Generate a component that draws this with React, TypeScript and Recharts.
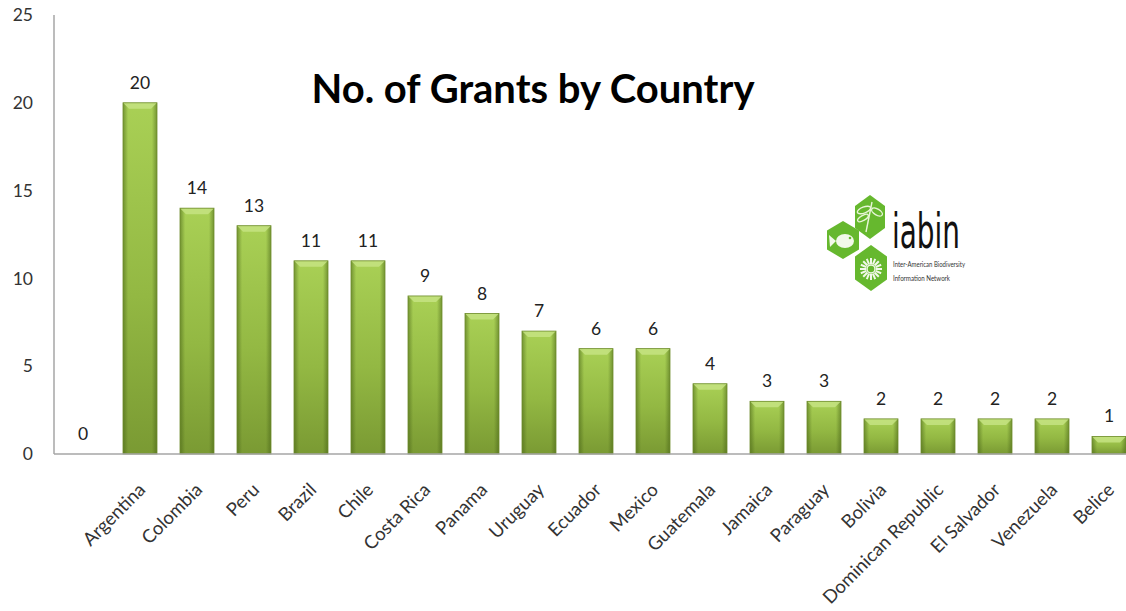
import { BarChart, Bar, XAxis, YAxis, LabelList } from 'recharts'

const countries = [
  '', 'Argentina', 'Colombia', 'Peru', 'Brazil', 'Chile', 'Costa Rica', 'Panama', 'Uruguay',
  'Ecuador', 'Mexico', 'Guatemala', 'Jamaica', 'Paraguay', 'Bolivia', 'Dominican Republic',
  'El Salvador', 'Venezuela', 'Belice',
]
const grants = [0, 20, 14, 13, 11, 11, 9, 8, 7, 6, 6, 4, 3, 3, 2, 2, 2, 2, 1]
const yTicks = [0, 5, 10, 15, 20, 25]

const data = countries.map((name, i) => ({ name, grants: grants[i] }))

const FONT = 'Lato, "Open Sans", sans-serif'

function BevelBar(props: any) {
  const { x, y, width, height } = props
  if (!height || height <= 0) return null
  const b = Math.min(6, height / 2)
  return (
    <g>
      <rect x={x} y={y} width={width} height={height} fill="url(#barFill)" />
      <rect x={x} y={y} width={width} height={height} fill="url(#barEdge)" />
      <polygon
        points={`${x},${y} ${x + width},${y} ${x + width - 6},${y + b} ${x + 6},${y + b}`}
        fill="#c6e383"
        opacity={0.85}
      />
      <rect x={x} y={y} width={width} height={height} fill="none" stroke="#6e8c2c" strokeWidth={0.8} />
    </g>
  )
}

function CountryTick(props: any) {
  const { x, y, payload } = props
  const px = x + 7
  const py = y + 29
  return (
    <text
      x={px}
      y={py}
      transform={`rotate(-45 ${px} ${py})`}
      textAnchor="end"
      fontFamily={FONT}
      fontSize={18.5}
      fill="#333"
    >
      {payload.value}
    </text>
  )
}

function Logo() {
  const hex = (cx: number, cy: number, w: number, h: number) =>
    `${cx},${cy - h} ${cx + w},${cy - h / 2} ${cx + w},${cy + h / 2} ${cx},${cy + h} ${cx - w},${cy + h / 2} ${cx - w},${cy - h / 2}`
  const petals = Array.from({ length: 16 }, (_, i) => (i * Math.PI) / 8)
  return (
    <g>
      <polygon points={hex(870, 217, 15, 22)} fill="#66b82e" />
      <polygon points={hex(843, 240, 16, 19)} fill="#66b82e" />
      <polygon points={hex(871, 268, 16, 23)} fill="#66b82e" />
      {/* dragonfly */}
      <g stroke="#e8f5d8" strokeWidth={1.4} fill="none">
        <line x1={872} y1={202} x2={866} y2={232} />
        <ellipse cx={864} cy={210} rx={7} ry={3} transform="rotate(-20 864 210)" />
        <ellipse cx={877} cy={212} rx={6} ry={3} transform="rotate(30 877 212)" />
        <ellipse cx={863} cy={218} rx={6} ry={2.5} transform="rotate(-30 863 218)" />
      </g>
      {/* fish */}
      <g fill="#f2f9ea">
        <ellipse cx={845} cy={241} rx={9} ry={7} />
        <polygon points="836,241 829,235 830,247" />
        <circle cx={850} cy={238} r={1.3} fill="#66b82e" />
      </g>
      {/* flower */}
      <g stroke="#f2f9ea" strokeWidth={2}>
        {petals.map((a, i) => (
          <line
            key={i}
            x1={871 + Math.cos(a) * 5}
            y1={269 + Math.sin(a) * 5}
            x2={871 + Math.cos(a) * 11}
            y2={269 + Math.sin(a) * 11}
          />
        ))}
      </g>
      <circle cx={871} cy={269} r={4} fill="none" stroke="#f2f9ea" strokeWidth={1.5} />
      <text
        x={892}
        y={248}
        fontFamily='"DejaVu Sans", sans-serif'
        fontSize={48}
        fill="#111"
        textLength={68}
        lengthAdjust="spacingAndGlyphs"
      >
        iabin
      </text>
      <text x={893} y={267} fontFamily={FONT} fontSize={8} fill="#333" textLength={72} lengthAdjust="spacingAndGlyphs">
        Inter-American Biodiversity
      </text>
      <text x={893} y={281} fontFamily={FONT} fontSize={8} fill="#333" textLength={57} lengthAdjust="spacingAndGlyphs">
        Information Network
      </text>
    </g>
  )
}

export default function App() {
  return (
    <div
      style={{
        position: 'fixed',
        left: 0,
        top: 0,
        width: 1126,
        height: 611,
        overflow: 'hidden',
        background: '#fff',
      }}
    >
      <BarChart width={1140} height={611} data={data} margin={{ top: 15, right: 3, left: 0, bottom: 0 }}>
        <defs>
          <linearGradient id="barFill" x1="0" y1="0" x2="0" y2="1">
            <stop offset="0%" stopColor="#a9d055" />
            <stop offset="55%" stopColor="#93b843" />
            <stop offset="100%" stopColor="#7a9a33" />
          </linearGradient>
          <linearGradient id="barEdge" x1="0" y1="0" x2="1" y2="0">
            <stop offset="0%" stopColor="#3f5a12" stopOpacity={0.5} />
            <stop offset="15%" stopColor="#3f5a12" stopOpacity={0} />
            <stop offset="85%" stopColor="#3f5a12" stopOpacity={0} />
            <stop offset="100%" stopColor="#3f5a12" stopOpacity={0.5} />
          </linearGradient>
        </defs>
        <XAxis
          dataKey="name"
          interval={0}
          height={157}
          tickLine={false}
          axisLine={{ stroke: '#a6a6a6', strokeWidth: 1.5 }}
          tick={<CountryTick />}
        />
        <YAxis
          width={54}
          domain={[0, 25]}
          ticks={yTicks}
          tickLine={false}
          tickSize={0}
          tickMargin={21}
          axisLine={{ stroke: '#a6a6a6', strokeWidth: 1.5 }}
          tick={{ fontFamily: FONT, fontSize: 17.5, fill: '#333' }}
        />
        <Bar dataKey="grants" barSize={34} shape={<BevelBar />} isAnimationActive={false}>
          <LabelList
            dataKey="grants"
            position="top"
            offset={14}
            style={{ fontFamily: FONT, fontSize: 17.5, fill: '#222' }}
          />
        </Bar>
      </BarChart>
      <svg width={1126} height={611} style={{ position: 'absolute', left: 0, top: 0, pointerEvents: 'none' }}>
        <text
          x={533}
          y={103}
          textAnchor="middle"
          fontFamily={FONT}
          fontWeight={700}
          fontSize={40}
          fill="#000"
        >
          No. of Grants by Country
        </text>
        <Logo />
      </svg>
    </div>
  )
}
